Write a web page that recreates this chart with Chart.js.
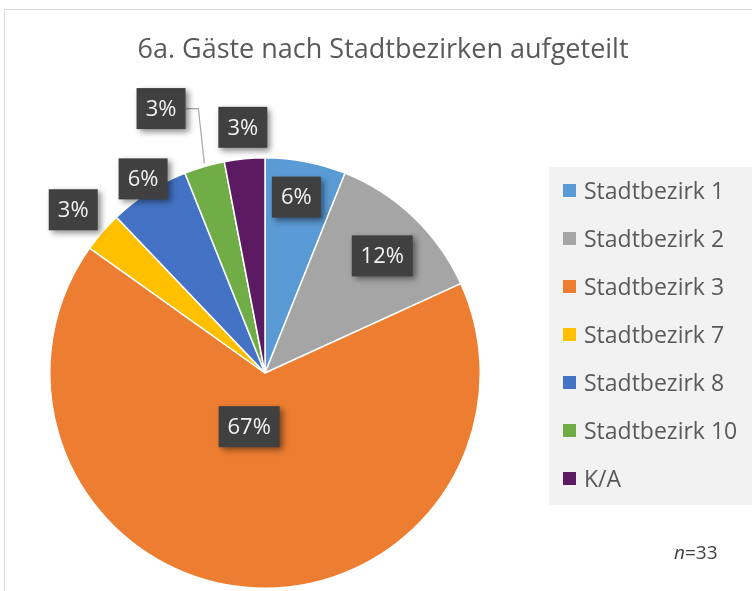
<!DOCTYPE html>
<html>
<head>
<meta charset="utf-8">
<script src="https://cdn.jsdelivr.net/npm/chart.js@4"></script>
<style>
  html, body { margin: 0; padding: 0; background: #fff; }
  #wrap { width: 752px; height: 591px; }
</style>
</head>
<body>
<div id="wrap"><canvas id="pie" width="752" height="591"></canvas></div>
<script>
// chart data
var categories = ["Stadtbezirk 1", "Stadtbezirk 2", "Stadtbezirk 3", "Stadtbezirk 7", "Stadtbezirk 8", "Stadtbezirk 10", "K/A"];
var guests = [2, 4, 22, 1, 2, 1, 1];
var sampleSize = 33;
var titleText = "6a. Gäste nach Stadtbezirken aufgeteilt";

var colors = ["#5B9BD5", "#A5A5A5", "#ED7D31", "#FFC000", "#4472C4", "#70AD47", "#5C1A62"];
var FONT = '"Open Sans", sans-serif';

// label placement per slice: [radius factor, angle shift in deg]
var labelPlace = [[0.83, -0.8], [0.77, 1.4], [0.26, 11], [1.17, -0.5], [1.065, 0.6], [1.32, -5.1], [1.146, 0.3]];

var decor = {
    id: "decor",
    beforeDraw: function (chart) {
        var ctx = chart.ctx;
        ctx.save();
        // outer frame
        ctx.strokeStyle = "#D9D9D9";
        ctx.lineWidth = 1;
        ctx.strokeRect(4.5, 9.5, 800, 700);
        // legend background
        ctx.fillStyle = "#F2F2F2";
        ctx.fillRect(549, 167, 210, 338);
        ctx.restore();
    },
    afterDraw: function (chart) {
        var ctx = chart.ctx;
        var meta = chart.getDatasetMeta(0);
        var vals = chart.data.datasets[0].data;
        var total = vals.reduce(function (a, b) { return a + b; }, 0);
        ctx.save();

        // title
        ctx.fillStyle = "#595959";
        ctx.font = "27px " + FONT;
        ctx.textAlign = "center";
        ctx.textBaseline = "middle";
        ctx.fillText(titleText, 383, 50);

        // legend
        ctx.textAlign = "left";
        ctx.font = "23px " + FONT;
        chart.data.labels.forEach(function (lab, i) {
            var y = 191 + i * 48;
            ctx.fillStyle = colors[i];
            ctx.fillRect(563, y - 7, 13, 13);
            ctx.fillStyle = "#595959";
            ctx.fillText(lab, 584, y + 1);
        });

        // n=33
        ctx.font = "italic 19px " + FONT;
        var nw = ctx.measureText("n").width;
        ctx.fillStyle = "#404040";
        ctx.fillText("n", 674, 554);
        ctx.font = "19px " + FONT;
        ctx.fillText("=" + sampleSize, 674 + nw, 554);

        // data labels
        ctx.font = "22px " + FONT;
        ctx.textAlign = "center";
        meta.data.forEach(function (arc, i) {
            var p = arc.getProps(["x", "y", "startAngle", "endAngle", "outerRadius"], true);
            var mid = (p.startAngle + p.endAngle) / 2 + labelPlace[i][1] * Math.PI / 180;
            var r = p.outerRadius * labelPlace[i][0];
            var cx = p.x + Math.cos(mid) * r;
            var cy = p.y + Math.sin(mid) * r;
            var txt = Math.round(vals[i] / total * 100) + "%";
            var w = Math.round(ctx.measureText(txt).width + 18);
            var h = 41;

            // leader line when label sits far from slice
            if (labelPlace[i][0] > 1.25) {
                var am = (p.startAngle + p.endAngle) / 2;
                var ex = p.x + Math.cos(am) * p.outerRadius;
                var ey = p.y + Math.sin(am) * p.outerRadius;
                ctx.strokeStyle = "#A6A6A6";
                ctx.lineWidth = 1.2;
                ctx.beginPath();
                ctx.moveTo(cx + w / 2, cy);
                ctx.lineTo(ex - 6, cy);
                ctx.lineTo(ex, ey - 3);
                ctx.stroke();
            }

            ctx.save();
            ctx.shadowColor = "rgba(0,0,0,0.45)";
            ctx.shadowBlur = 6;
            ctx.shadowOffsetX = 3;
            ctx.shadowOffsetY = 3;
            ctx.fillStyle = "#404040";
            ctx.fillRect(cx - w / 2, cy - h / 2, w, h);
            ctx.restore();
            ctx.fillStyle = "#F2F2F2";
            ctx.fillText(txt, cx, cy + 1);
        });
        ctx.restore();
    }
};

var ctx1 = document.getElementById("pie").getContext("2d");
var myChart1 = new Chart(ctx1, {
    type: "pie",
    data: {
        labels: categories,
        datasets: [{
            data: guests,
            backgroundColor: colors,
            borderColor: "#FFFFFF",
            borderWidth: 1.5
        }]
    },
    options: {
        responsive: false,
        animation: false,
        layout: {
            padding: { left: 49, right: 271, top: 157, bottom: 2 }
        },
        plugins: {
            legend: { display: false },
            title: { display: false },
            tooltip: { enabled: false }
        }
    },
    plugins: [decor]
});
</script>
</body>
</html>
